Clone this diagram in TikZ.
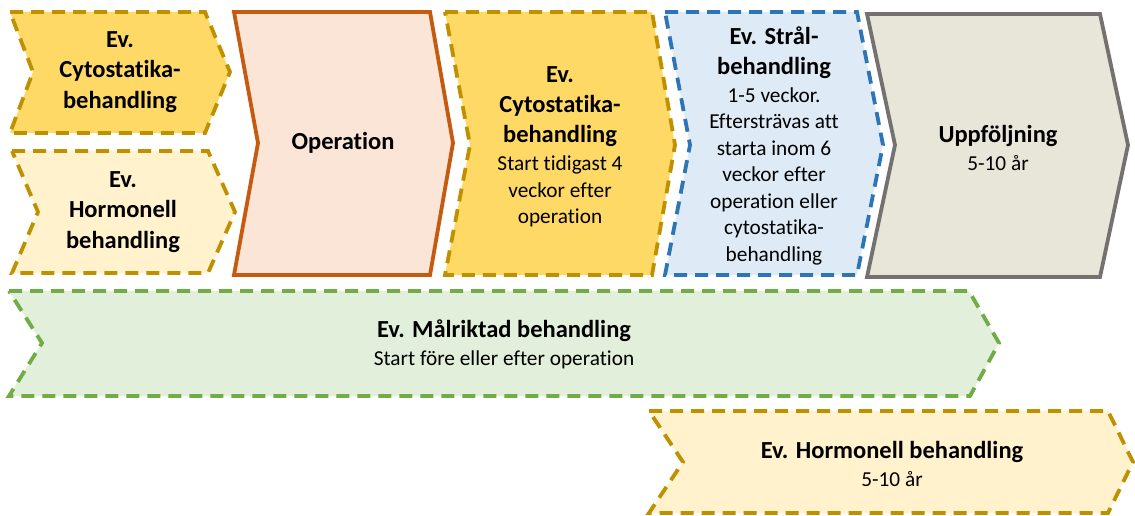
\documentclass[tikz,border=0pt]{standalone}
\usepackage{fontspec}
\setmainfont{Carlito}[Ligatures={NoCommon}]
\definecolor{cyfill}{HTML}{FFD966}
\definecolor{hofill}{HTML}{FFF2CC}
\definecolor{goldln}{HTML}{BF9000}
\definecolor{opfill}{HTML}{FBE5D6}
\definecolor{opln}{HTML}{C55A11}
\definecolor{stfill}{HTML}{DEEBF7}
\definecolor{stln}{HTML}{2E75B6}
\definecolor{upfill}{HTML}{E7E6D8}
\definecolor{upln}{HTML}{767171}
\definecolor{mafill}{HTML}{E2EFDA}
\definecolor{maln}{HTML}{70AD47}
\newcommand\hd[1]{{\fontsize{24.5}{29.5}\selectfont\bfseries #1}}
\tikzset{
  shp/.style={line width=3.8pt, line join=miter},
  dsh/.style={shp, dash pattern=on 13pt off 8pt},
  lbl/.style={align=center, font=\fontsize{21.3}{26.5}\selectfont, inner sep=0pt, text=black},
}
\begin{document}
\begin{tikzpicture}[x=1pt,y=-1pt]
\useasboundingbox (0,0) rectangle (1135,516);
% shapes
\draw[dsh, draw=goldln, fill=cyfill] (10,12) -- (205,12) -- (230,72) -- (205,133) -- (10,133) -- (33,72) -- cycle;
\draw[dsh, draw=goldln, fill=hofill] (12,151) -- (208,151) -- (235,212) -- (208,273) -- (12,273) -- (38,212) -- cycle;
\draw[shp, draw=opln, fill=opfill] (234,12) -- (430,12) -- (453,143) -- (430,275) -- (234,275) -- (258,143) -- cycle;
\draw[dsh, draw=goldln, fill=cyfill] (445,12) -- (652,12) -- (675,145) -- (652,275) -- (445,275) -- (470,145) -- cycle;
\draw[dsh, draw=stln, fill=stfill] (665,12) -- (857,12) -- (883,145) -- (857,275) -- (665,275) -- (690,145) -- cycle;
\draw[shp, draw=upln, fill=upfill] (867,14) -- (1100,14) -- (1128,145) -- (1100,277) -- (867,277) -- (895,145) -- cycle;
\draw[dsh, draw=maln, fill=mafill] (9,291) -- (969,291) -- (999,343) -- (970,396) -- (9,396) -- (42,343) -- cycle;
\draw[dsh, draw=goldln, fill=hofill] (649,411) -- (1108,411) -- (1133,462) -- (1108,513) -- (649,513) -- (683,462) -- cycle;
% labels
\node[lbl] (cyto1) at (120,72) {\hd{Ev.}\\[4pt]\hd{Cytostatika-}\\[4pt]\hd{behandling}};
\node[lbl] (horm1) at (123,212) {\hd{Ev.}\\[4pt]\hd{Hormonell}\\[4pt]\hd{behandling}};
\node[lbl] (op) at (343,143) {\hd{Operation}};
\node[lbl] (cyto2) at (560,147) {\hd{Ev.}\\[3.5pt]\hd{Cytostatika-}\\[3.5pt]\hd{behandling}\\[1.5pt]Start tidigast 4\\veckor efter\\operation};
\node[lbl] (stral) at (774,146) {\hd{Ev. Strål-}\\[3pt]\hd{behandling}\\[1.5pt]1-5 veckor.\\Eftersträvas att\\starta inom 6\\veckor efter\\operation eller\\cytostatika-\\behandling};
\node[lbl] (upp) at (998,148) {\hd{Uppföljning}\\[1.5pt]5-10 år};
\node[lbl] (mal) at (504,344) {\hd{Ev. Målriktad behandling}\\[1.5pt]Start före eller efter operation};
\node[lbl] (horm2) at (892,464) {\hd{Ev. Hormonell behandling}\\[1.5pt]5-10 år};
\end{tikzpicture}
\end{document}
